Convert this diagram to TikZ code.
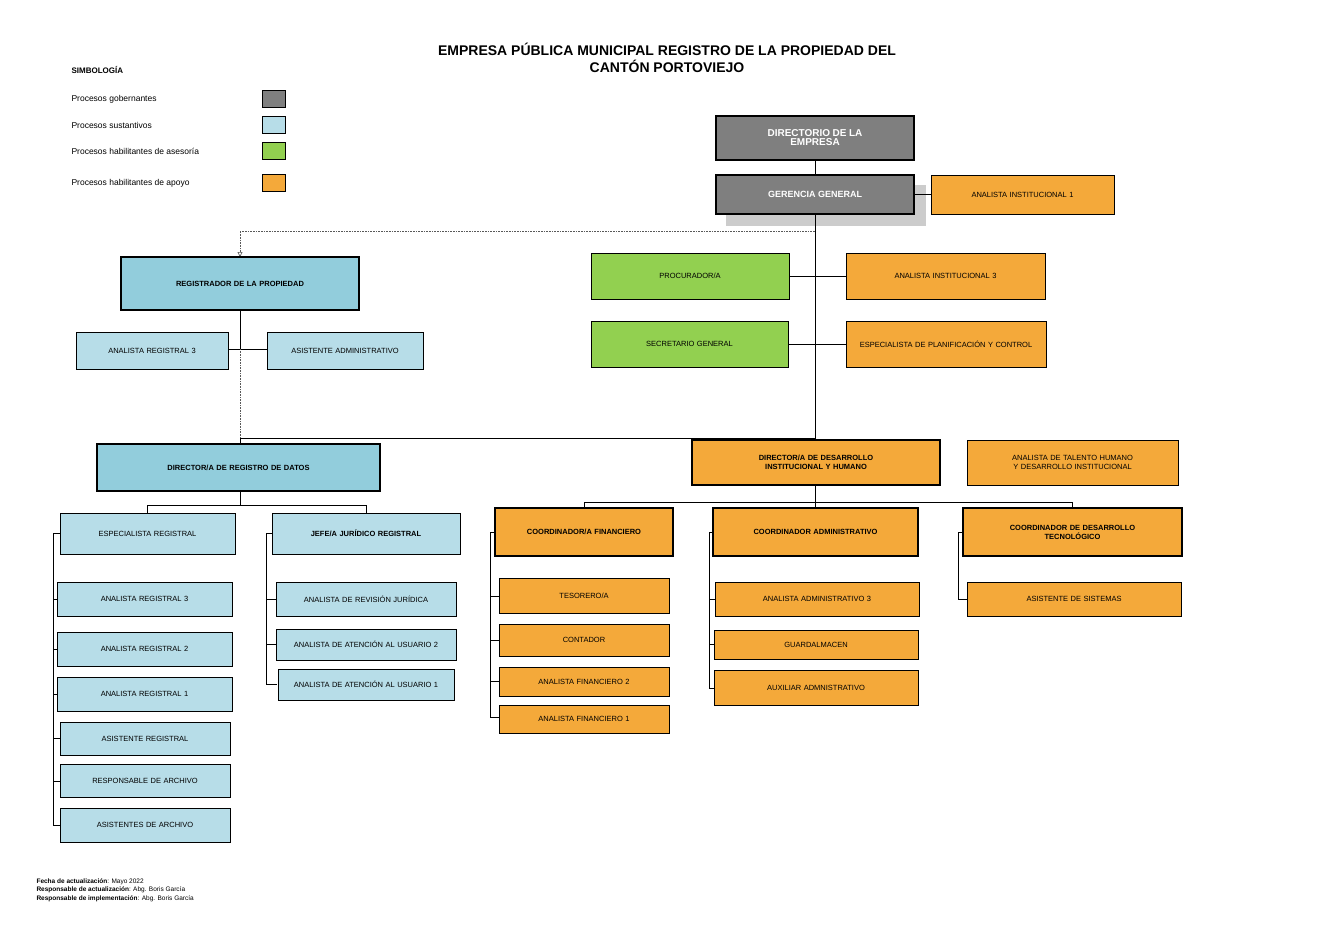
\documentclass[tikz,border=0pt]{standalone}
\usepackage{fontspec}
\setmainfont{Liberation Sans}
\usetikzlibrary{arrows.meta}
\definecolor{gov}{HTML}{7F7F7F}
\definecolor{sus}{HTML}{B7DDE8}
\definecolor{susd}{HTML}{92CDDC}
\definecolor{ase}{HTML}{92D050}
\definecolor{apo}{HTML}{F4A93A}
\tikzset{
 bx/.style={draw=black, line width=0.7pt, inner sep=1pt, align=center, font=\fontsize{7.5}{9}\selectfont},
 dbl/.style={double=black, double distance=1.2pt, line width=0.6pt, draw=black},
 ln/.style={line width=0.7pt},
 dl/.style={densely dotted, line width=0.6pt, draw=gray!70!black}
}
\newcommand{\bx}[7]{\path[#2] (#3,#4) rectangle (#5,#6);
 \node[font=\fontsize{7.5}{9}\selectfont, align=center, text width={(#5-#3-4)*1pt}] (#1) at ({(#3+#5)/2},{(#4+#6)/2}) {#7};
 \coordinate (#1n) at ({(#3+#5)/2},#4);}
\begin{document}
\begin{tikzpicture}[x=1pt,y=-1pt]
\useasboundingbox (0,0) rectangle (1321,935);
\node[font=\bfseries\fontsize{14}{17}\selectfont, align=center] at (667,58) {EMPRESA PÚBLICA MUNICIPAL REGISTRO DE LA PROPIEDAD DEL\\CANTÓN PORTOVIEJO};
% legend
\node[anchor=west, font=\bfseries\fontsize{8}{9}\selectfont] at (68,70) {SIMBOLOGÍA};
\foreach \t/\c/\y in {Procesos gobernantes/gov/99, Procesos sustantivos/sus/125, Procesos habilitantes de asesoría/ase/151, Procesos habilitantes de apoyo/apo/183}{
 \node[anchor=west, font=\fontsize{8.5}{10}\selectfont] at (68,\y) {\t};}
\draw[fill=gov, line width=1pt] (262,90) rectangle (285,107);
\draw[fill=sus, line width=1pt] (262,116) rectangle (285,133);
\draw[fill=ase, line width=1pt] (262,142) rectangle (285,159);
\draw[fill=apo, line width=1pt] (262,174) rectangle (285,191);
% shadow
\fill[gray!40] (726,185) rectangle (926,226);
% lines
\draw[ln] (815,160) -- (815,440);
\draw[ln] (240,438) -- (815,438);
\draw[ln] (240,438) -- (240,444);
\draw[ln] (914,194) -- (931,194);
\draw[ln] (789,276) -- (846,276);
\draw[ln] (788,344) -- (846,344);
\draw[dl, -{Triangle[open,length=5pt,width=5pt]}] (815,231) -- (240,231) -- (240,257);
\draw[ln] (240,310) -- (240,349);
\draw[ln] (228,349) -- (267,349);
\draw[dl] (240,349) -- (240,438);
\draw[ln] (240,491) -- (240,505); \draw[ln] (147,505) -- (366,505);
\draw[ln] (147,505) -- (147,513); \draw[ln] (366,505) -- (366,513);
\draw[ln] (815,485) -- (815,502); \draw[ln] (584,502) -- (1072,502);
\foreach \x in {584,815,1072} \draw[ln] (\x,502) -- (\x,508);
% brackets
\draw[ln] (60,533) -- (53,533) -- (53,825);
\foreach \y in {599,649,694,738,781,825} \draw[ln] (53,\y) -- (60,\y);
\draw[ln] (272,533) -- (266,533) -- (266,684);
\foreach \y in {599,644,684} \draw[ln] (266,\y) -- (277,\y);
\draw[ln] (495,532) -- (490,532) -- (490,717);
\foreach \y in {596,640,681,717} \draw[ln] (490,\y) -- (499,\y);
\draw[ln] (713,532) -- (709,532) -- (709,688);
\foreach \y in {599,644,688} \draw[ln] (709,\y) -- (715,\y);
\draw[ln] (963,532) -- (958,532) -- (958,599) -- (967,599);
% boxes
\bx{dir}{fill=gov,dbl}{716}{116}{914}{160}{\color{white}\bfseries\fontsize{10}{12}\selectfont DIRECTORIO DE LA\\EMPRESA}
\bx{ger}{fill=gov,dbl}{716}{175}{914}{214}{\color{white}\bfseries\fontsize{9}{11}\selectfont GERENCIA GENERAL}
\bx{ai1}{fill=apo,draw,ln}{931}{175}{1114}{214}{ANALISTA INSTITUCIONAL 1}
\bx{reg}{fill=susd,dbl}{121}{257}{359}{310}{\bfseries REGISTRADOR DE LA PROPIEDAD}
\bx{ar3}{fill=sus,draw,ln}{76}{332}{228}{369}{ANALISTA REGISTRAL 3}
\bx{asi}{fill=sus,draw,ln}{267}{332}{423}{369}{ASISTENTE ADMINISTRATIVO}
\bx{proc}{fill=ase,draw,ln}{591}{253}{789}{299}{PROCURADOR/A}
\bx{ai3}{fill=apo,draw,ln}{846}{253}{1045}{299}{ANALISTA INSTITUCIONAL 3}
\bx{sec}{fill=ase,draw,ln}{591}{321}{788}{367}{SECRETARIO GENERAL}
\bx{esp}{fill=apo,draw,ln}{846}{321}{1046}{367}{ESPECIALISTA DE PLANIFICACIÓN Y CONTROL}
\bx{drd}{fill=susd,dbl}{97}{444}{380}{491}{\bfseries DIRECTOR/A DE REGISTRO DE DATOS}
\bx{ddi}{fill=apo,dbl}{692}{440}{940}{485}{\bfseries DIRECTOR/A DE DESARROLLO\\INSTITUCIONAL Y HUMANO}
\bx{ath}{fill=apo,draw,ln}{967}{440}{1178}{485}{ANALISTA DE TALENTO HUMANO Y DESARROLLO INSTITUCIONAL}
\bx{espr}{fill=sus,draw,ln}{60}{513}{235}{554}{ESPECIALISTA REGISTRAL}
\bx{jefe}{fill=sus,draw,ln}{272}{513}{460}{554}{\bfseries JEFE/A JURÍDICO REGISTRAL}
\bx{arb3}{fill=sus,draw,ln}{57}{582}{232}{616}{ANALISTA REGISTRAL 3}
\bx{arb2}{fill=sus,draw,ln}{57}{632}{232}{666}{ANALISTA REGISTRAL 2}
\bx{arb1}{fill=sus,draw,ln}{57}{677}{232}{711}{ANALISTA REGISTRAL 1}
\bx{asr}{fill=sus,draw,ln}{60}{722}{230}{755}{ASISTENTE  REGISTRAL}
\bx{rsp}{fill=sus,draw,ln}{60}{764}{230}{797}{RESPONSABLE  DE ARCHIVO}
\bx{asa}{fill=sus,draw,ln}{60}{808}{230}{842}{ASISTENTES DE ARCHIVO}
\bx{arj}{fill=sus,draw,ln}{276}{582}{456}{616}{ANALISTA DE REVISIÓN JURÍDICA}
\bx{au2}{fill=sus,draw,ln}{276}{629}{456}{660}{ANALISTA DE ATENCIÓN AL USUARIO 2}
\bx{au1}{fill=sus,draw,ln}{278}{669}{454}{700}{ANALISTA DE ATENCIÓN AL USUARIO 1}
\bx{cfin}{fill=apo,dbl}{495}{508}{673}{556}{\bfseries COORDINADOR/A FINANCIERO}
\bx{teso}{fill=apo,draw,ln}{499}{578}{669}{613}{TESORERO/A}
\bx{cont}{fill=apo,draw,ln}{499}{624}{669}{656}{CONTADOR}
\bx{af2}{fill=apo,draw,ln}{499}{667}{669}{696}{ANALISTA FINANCIERO 2}
\bx{af1}{fill=apo,draw,ln}{499}{705}{669}{733}{ANALISTA FINANCIERO 1}
\bx{cadm}{fill=apo,dbl}{713}{508}{918}{556}{\bfseries COORDINADOR ADMINISTRATIVO}
\bx{aa3}{fill=apo,draw,ln}{715}{582}{919}{616}{ANALISTA ADMINISTRATIVO 3}
\bx{gua}{fill=apo,draw,ln}{714}{630}{918}{659}{GUARDALMACEN}
\bx{aux}{fill=apo,draw,ln}{714}{670}{918}{705}{AUXILIAR ADMNISTRATIVO}
\bx{cdes}{fill=apo,dbl}{963}{508}{1182}{556}{\bfseries COORDINADOR DE DESARROLLO\\TECNOLÓGICO}
\bx{asis}{fill=apo,draw,ln}{967}{582}{1181}{616}{ASISTENTE DE SISTEMAS}
% footer
\node[anchor=north west, align=left, font=\fontsize{6.5}{8.5}\selectfont] at (33,875) {\textbf{Fecha de actualización}: Mayo 2022\\\textbf{Responsable de actualización}: Abg. Boris García\\\textbf{Responsable de implementación}: Abg. Boris García};
\end{tikzpicture}
\end{document}
